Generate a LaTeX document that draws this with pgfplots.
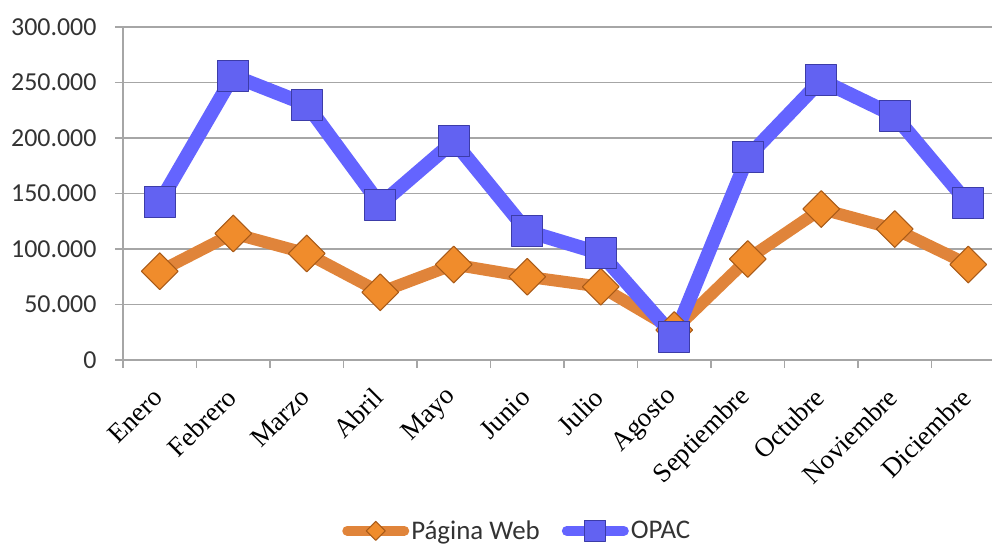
\documentclass[border=0pt]{standalone}
\usepackage{fontspec}
\setsansfont{Carlito}
\newfontfamily\xfont{Liberation Serif}
\usepackage{pgfplots}
\pgfplotsset{compat=1.18}
\definecolor{orangeline}{HTML}{E0843A}
\definecolor{orangefill}{HTML}{F08C2C}
\definecolor{orangedraw}{HTML}{A85A18}
\definecolor{blueline}{HTML}{6464FF}
\definecolor{bluefill}{HTML}{6262F2}
\definecolor{bluedraw}{HTML}{3C3CA8}
\definecolor{gridgray}{HTML}{A6A6A6}
\definecolor{textgray}{HTML}{333333}
\begin{document}
\begin{tikzpicture}
\begin{axis}[
  name=ax,
  scale only axis, width=882bp, height=333bp,
  xmin=0.5, xmax=12.5, ymin=0, ymax=300000,
  axis x line*=bottom, axis y line*=left,
  axis line style={draw=gridgray, line width=1.3bp},
  tick align=outside, major tick length=8bp,
  tick style={draw=gridgray, line width=1.3bp},
  xtick={0.5,1.5,...,12.5},
  xticklabels={Enero,Febrero,Marzo,Abril,Mayo,Junio,Julio,Agosto,Septiembre,Octubre,Noviembre,Diciembre,{}},
  xticklabel style={font=\xfont\fontsize{27}{30}\selectfont, text=black, xshift=35bp, yshift=-25bp, rotate=45, anchor=east, inner sep=0pt},
  ytick={0,50000,100000,150000,200000,250000,300000},
  scaled y ticks=false,
  /pgf/number format/fixed,
  /pgf/number format/precision=0,
  /pgf/number format/assume math mode=true,
  /pgf/number format/1000 sep={.},
  yticklabel style={font=\sffamily\fontsize{26}{30}\selectfont, text=textgray, xshift=-15bp},
  ymajorgrids, grid style={draw=gridgray, line width=1.3bp},
  clip=false,
  legend style={at={(0.447,-0.513)}, anchor=center, draw=none, fill=none,
    legend columns=2, font=\sffamily\fontsize{27}{30}\selectfont, text=textgray,
    /tikz/every even column/.append style={column sep=20bp}},
]
\addplot[orangeline, line width=12bp, line join=round,
  mark=square*, mark size=13bp,
  mark options={rotate=45, fill=orangefill, draw=orangedraw, line width=1bp},
  legend image code/.code={\draw[orangeline, line width=10bp, line cap=round] (0bp,0bp) -- (57bp,0bp);
    \draw[fill=orangefill, draw=orangedraw, line width=1bp] (28.5bp,-9.5bp) -- (38bp,0bp) -- (28.5bp,9.5bp) -- (19bp,0bp) -- cycle;}]
coordinates {
(1,80000) (2,114000) (3,96000) (4,61000) (5,86000) (6,75000)
(7,66000) (8,27000) (9,91000) (10,136000) (11,118000) (12,86000)
};
\addlegendentry{Página Web}
\addplot[blueline, line width=14bp, line join=round,
  mark=square*, mark size=15.5bp,
  mark options={fill=bluefill, draw=bluedraw, line width=1bp},
  legend image code/.code={\draw[blueline, line width=10bp, line cap=round] (0bp,0bp) -- (57bp,0bp);
    \draw[fill=bluefill, draw=bluedraw, line width=1bp] (18bp,-10.5bp) rectangle (39bp,10.5bp);}]
coordinates {
(1,142000) (2,256000) (3,230000) (4,140000) (5,197000) (6,116000)
(7,96000) (8,21000) (9,183000) (10,252000) (11,220000) (12,141000)
};
\addlegendentry{OPAC}
\end{axis}
\pgfresetboundingbox
\path ([xshift=-123bp,yshift=-186bp]ax.south west) rectangle ([xshift=869bp,yshift=27bp]ax.north west);
\end{tikzpicture}
\end{document}
